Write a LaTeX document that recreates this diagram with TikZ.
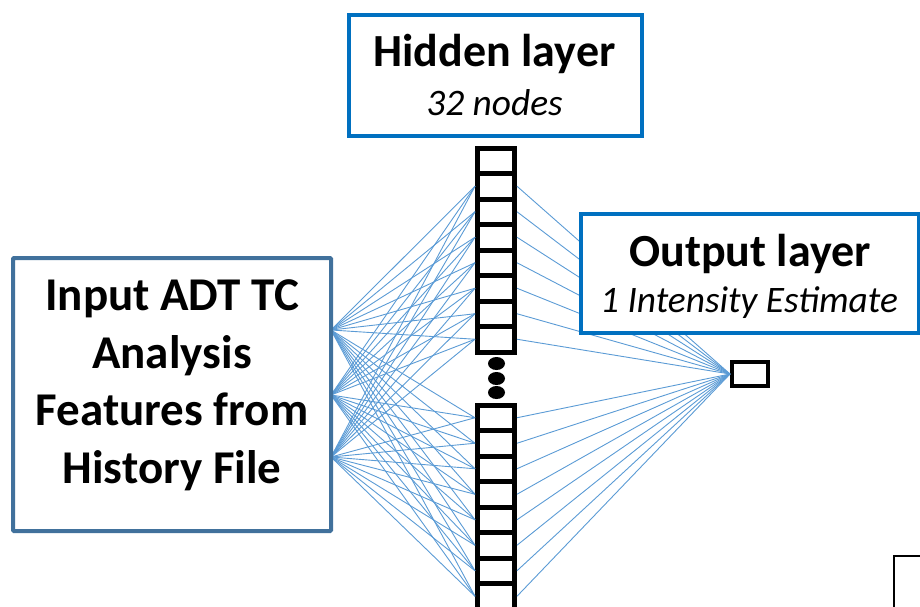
\documentclass[tikz,border=0pt]{standalone}
\usepackage{fontspec}
\setmainfont{Carlito}
\usepackage{tikz}
\usetikzlibrary{shapes,arrows,positioning,calc}

\definecolor{boxblue}{RGB}{0,112,192}
\definecolor{inblue}{RGB}{65,113,156}
\definecolor{linkblue}{RGB}{91,155,213}

\begin{document}
\begin{tikzpicture}[x=1pt, y=-1pt,
        cellnode/.style={rectangle, draw=black, fill=white, line width=5pt, minimum width=37pt, minimum height=25.5pt, inner sep=0pt},
        outnode/.style={rectangle, draw=black, fill=white, line width=4pt, minimum width=36pt, minimum height=24pt, inner sep=0pt},
        layerbox/.style={rectangle, draw=boxblue, fill=white, line width=4pt, inner sep=0pt},
        inbox/.style={rectangle, draw=inblue, fill=white, line width=4pt, rounded corners=1pt, inner sep=0pt, align=center, text depth=26pt, font=\fontsize{47}{57.5}\selectfont\bfseries},
        titletext/.style={font=\fontsize{46}{50}\selectfont\bfseries, inner sep=0pt},
        subtext/.style={font=\fontsize{37.4}{40}\selectfont\itshape, inner sep=0pt},
        link/.style={draw=linkblue, line width=0.9pt}
        ]

        \useasboundingbox (0,0) rectangle (920,607);
        \clip (0,0) rectangle (920,607);

        % Nodes
        \foreach \i in {1,...,8} {
            \node[cellnode] (top\i) at (496, {148+25.5*(\i-0.5)}) {};
            \node[cellnode] (bot\i) at (496, {405+25.5*(\i-0.5)}) {};
        }
        \node[outnode] (out) at (750,374) {};
        \coordinate (in1) at (331,330);
        \coordinate (in2) at (331,395);
        \coordinate (in3) at (331,457);

        % Lines
        \foreach \s in {in1,in2,in3} {
            \foreach \i in {2,...,8} \draw[link] (\s) -- (top\i.west);
            \foreach \i in {1,...,8} \draw[link] (\s) -- (bot\i.west);
        }
        \foreach \i in {2,...,8} \draw[link] (top\i.east) -- (out.west);
        \foreach \i in {1,...,8} \draw[link] (bot\i.east) -- (out.west);

        % Dots between the two halves
        \foreach \y in {363.5,378.5,392.5}
            \fill (496.5,\y) ellipse [x radius=8.5pt, y radius=6.5pt];

        % Boxes
        \node[inbox, minimum width=318pt, minimum height=273pt] (input) at (172,394.5) {Input ADT TC\\Analysis\\Features from\\History File};
        \node[layerbox, minimum width=293pt, minimum height=121pt] (hidden) at (495.5,75.5) {};
        \node[titletext, anchor=base] (hiddentitle) at (494.5,67) {Hidden layer};
        \node[subtext, anchor=base] (hiddensub) at (494.5,115) {32 nodes};
        \node[layerbox, minimum width=338pt, minimum height=119pt] (output) at (750,273.5) {};
        \node[titletext, anchor=base] (outtitle) at (750,266) {Output layer};
        \node[subtext, anchor=base] (outsub) at (749,312) {1 Intensity Estimate};
        \node[draw=black, line width=2pt, minimum width=60pt, minimum height=80pt, anchor=north west] (cornerbox) at (893,555) {};

    \end{tikzpicture}
\end{document}
